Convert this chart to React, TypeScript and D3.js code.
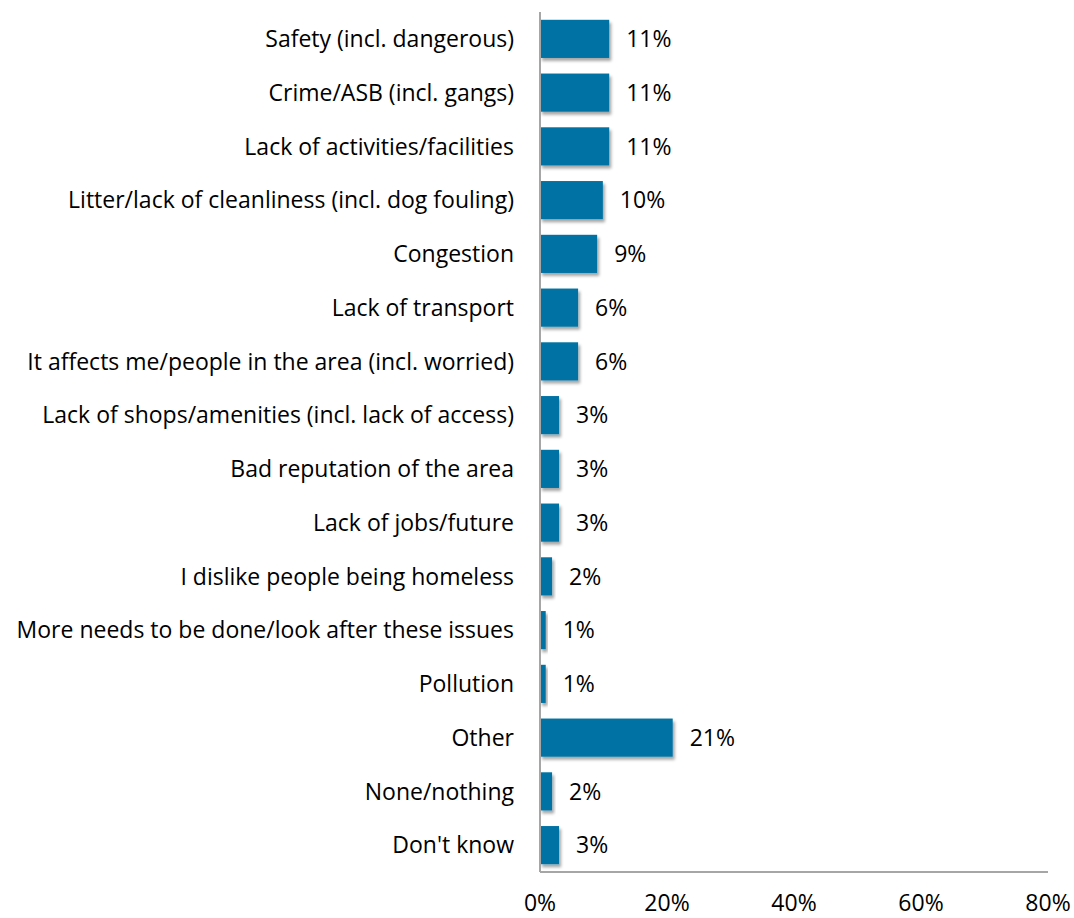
import React from "react";
import * as d3 from "d3";

const categories = [
  "Safety (incl. dangerous)",
  "Crime/ASB (incl. gangs)",
  "Lack of activities/facilities",
  "Litter/lack of cleanliness (incl. dog fouling)",
  "Congestion",
  "Lack of transport",
  "It affects me/people in the area (incl. worried)",
  "Lack of shops/amenities (incl. lack of access)",
  "Bad reputation of the area",
  "Lack of jobs/future",
  "I dislike people being homeless",
  "More needs to be done/look after these issues",
  "Pollution",
  "Other",
  "None/nothing",
  "Don't know",
];
const values = [10.9, 10.9, 10.9, 9.9, 9.0, 6.0, 6.0, 3.0, 3.0, 3.0, 1.9, 0.9, 0.9, 20.9, 1.9, 3.0];
const valueLabels = ["11%", "11%", "11%", "10%", "9%", "6%", "6%", "3%", "3%", "3%", "2%", "1%", "1%", "21%", "2%", "3%"];
const ticks = [0, 20, 40, 60, 80];

const W = 1074;
const H = 918;
const left = 540;
const right = 1048;
const top = 12;
const bottom = 872;
const font = "'Open Sans', sans-serif";
const fs = 23;
const capHalf = 8.2;
const barColor = "#0072a3";
const axisColor = "#a6a6a6";

export default function App() {
  const x = d3.scaleLinear().domain([0, 80]).range([left, right]);
  const y = d3.scaleBand<string>().domain(categories).range([top, bottom]).paddingInner(0.29).paddingOuter(0.145);

  return (
    <svg width={W} height={H} style={{ position: "absolute", left: 0, top: 0, background: "#fff" }}>
      <defs>
        <filter id="shadow" x="-20%" y="-20%" width="150%" height="160%">
          <feDropShadow dx="2" dy="3" stdDeviation="1.8" floodColor="#000" floodOpacity="0.35" />
        </filter>
      </defs>
      <rect x={0} y={0} width={W} height={H} fill="#fff" />
      {categories.map((c, i) => {
        const yy = y(c)!;
        const bw = y.bandwidth();
        const cy = yy + bw / 2;
        return (
          <g key={c}>
            <rect x={x(0)} y={yy} width={x(values[i]) - x(0)} height={bw} fill={barColor} filter="url(#shadow)" />
            <text x={514} y={cy + capHalf} textAnchor="end" fontFamily={font} fontSize={fs} fill="#000">
              {c}
            </text>
            <text x={x(values[i]) + 17} y={cy + capHalf} fontFamily={font} fontSize={fs} fill="#000">
              {valueLabels[i]}
            </text>
          </g>
        );
      })}
      <line x1={left} x2={left} y1={top} y2={bottom} stroke={axisColor} strokeWidth={2} />
      <line x1={left} x2={right} y1={bottom} y2={bottom} stroke={axisColor} strokeWidth={2} />
      {ticks.map((t) => (
        <text key={t} x={x(t)} y={911} textAnchor="middle" fontFamily={font} fontSize={fs} fill="#000">
          {t}%
        </text>
      ))}
    </svg>
  );
}
